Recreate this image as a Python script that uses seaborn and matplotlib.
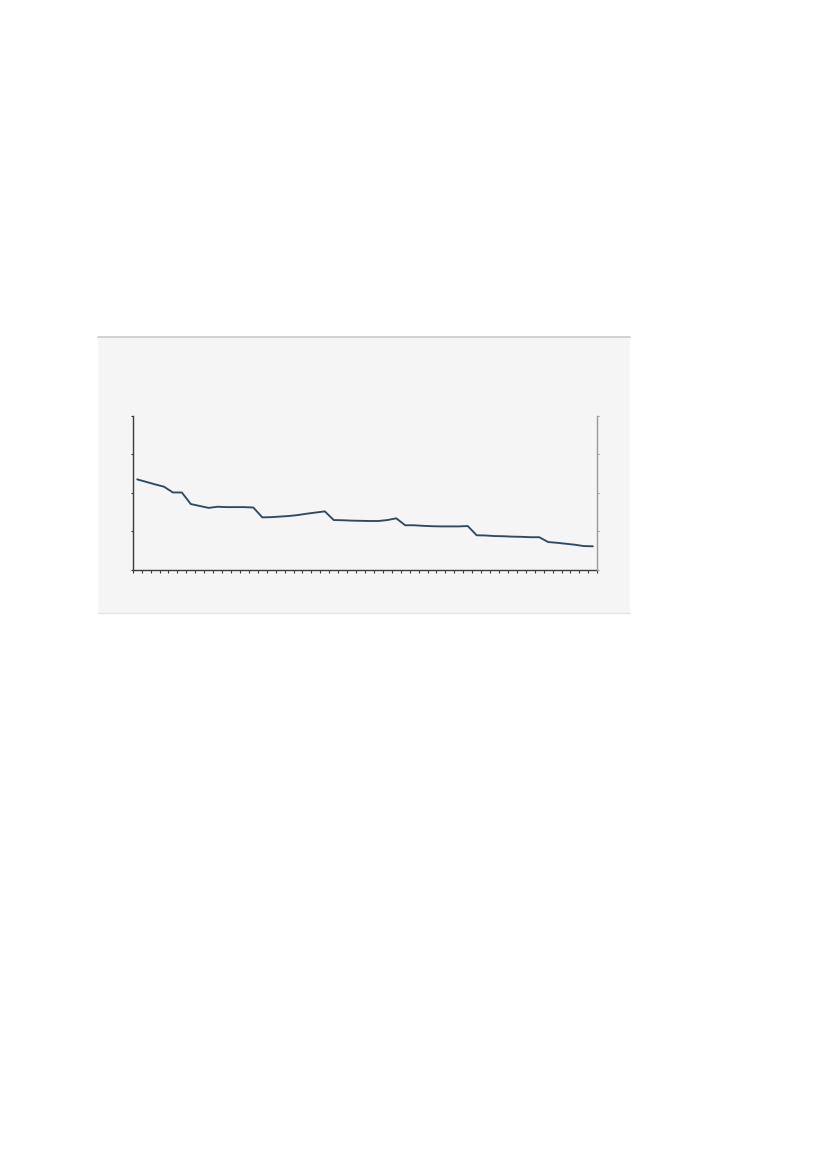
import numpy as np
import pandas as pd
import seaborn as sns
import matplotlib.pyplot as plt
from matplotlib.patches import Rectangle
from matplotlib.lines import Line2D


# values (no labels shown on the chart)
categories = list(range(52))
values = [2.35, 2.285, 2.22, 2.16, 2.01, 2.01, 1.71, 1.66, 1.61, 1.64,
          1.63, 1.63, 1.63, 1.62, 1.365, 1.37, 1.385, 1.40, 1.425, 1.46,
          1.49, 1.52, 1.295, 1.29, 1.28, 1.275, 1.27, 1.27, 1.295, 1.34,
          1.16, 1.16, 1.145, 1.135, 1.13, 1.13, 1.13, 1.14, 0.90, 0.895,
          0.88, 0.875, 0.865, 0.86, 0.85, 0.85, 0.725, 0.705, 0.68, 0.655,
          0.62, 0.615]
y_ticks = [0, 1, 2, 3, 4]

df = pd.DataFrame({'cat': categories, 'value': values})

sns.set_style('white')
fig = plt.figure(figsize=(8.27, 11.7), dpi=100)
fig.patch.set_facecolor('white')

W, H = 827, 1170

# grey panel behind the chart
panel = Rectangle((98 / W, 1 - 613.5 / H), (630 - 98) / W, (613.5 - 336) / H,
                  transform=fig.transFigure, facecolor='#f5f5f5', edgecolor='none', zorder=-10)
fig.patches.append(panel)
fig.lines.append(Line2D([98 / W, 630 / W], [1 - 336.5 / H, 1 - 336.5 / H],
                        transform=fig.transFigure, color='#cbcbcb', lw=1.2, zorder=-9))
fig.lines.append(Line2D([98 / W, 630 / W], [1 - 613 / H, 1 - 613 / H],
                        transform=fig.transFigure, color='#e4e4e4', lw=1.0, zorder=-9))

ax = fig.add_axes([132.7 / W, 1 - 570 / H, (597.3 - 132.7) / W, (570 - 415.7) / H])
ax.set_facecolor('none')
ax.patch.set_alpha(0)

sns.lineplot(data=df, x='cat', y='value', ax=ax, color='#2e4a62', linewidth=1.35)

ax.set_xlim(-0.5, len(categories) - 0.5)
ax.set_ylim(y_ticks[0], y_ticks[-1])
ax.set_xticks(np.arange(-0.5, len(categories), 1.0))
ax.set_yticks(y_ticks)
ax.set_xticklabels([])
ax.set_yticklabels([])
ax.set_xlabel('')
ax.set_ylabel('')

for side in ['top', 'right']:
    ax.spines[side].set_visible(False)
ax.spines['left'].set_color('#3a3a3a')
ax.spines['bottom'].set_color('#3a3a3a')
ax.spines['left'].set_linewidth(1.0)
ax.spines['bottom'].set_linewidth(1.0)
ax.tick_params(axis='x', direction='out', length=2.5, width=0.8, color='#3a3a3a', bottom=True)
ax.tick_params(axis='y', direction='out', length=1.5, width=0.8, color='#3a3a3a', left=True)

# right axis, lighter
ax2 = ax.twinx()
ax2.patch.set_alpha(0)
ax2.set_ylim(y_ticks[0], y_ticks[-1])
ax2.set_yticks(y_ticks)
ax2.set_yticklabels([])
for side in ['top', 'left', 'bottom']:
    ax2.spines[side].set_visible(False)
ax2.spines['right'].set_color('#9a9a9a')
ax2.spines['right'].set_linewidth(1.0)
ax2.tick_params(axis='y', direction='out', length=1.5, width=0.8, color='#9a9a9a', right=True)

fig.savefig('out.png', dpi=100)
